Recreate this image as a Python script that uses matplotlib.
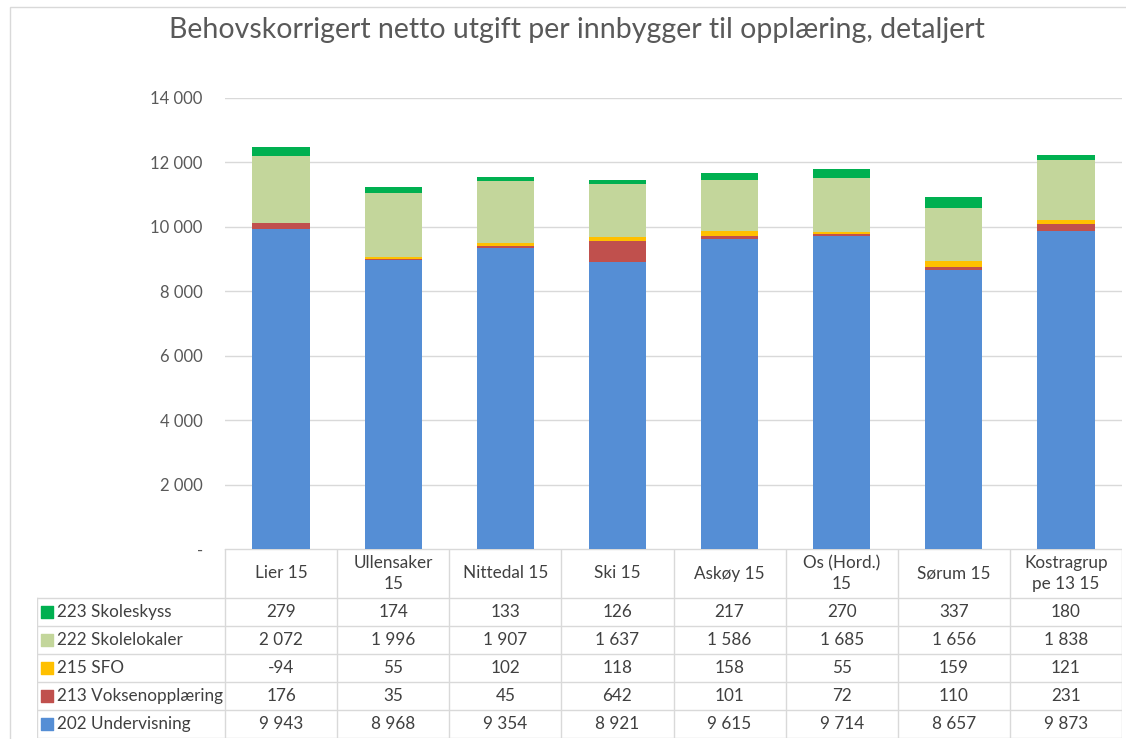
import matplotlib.pyplot as plt
import numpy as np
from matplotlib.patches import Rectangle

plt.rcParams["font.family"] = ["Lato", "DejaVu Sans"]

categories = ["Lier 15", "Ullensaker\n15", "Nittedal 15", "Ski 15", "Askøy 15",
              "Os (Hord.)\n15", "Sørum 15", "Kostragrup\npe 13 15"]
# bottom to top in the stack
series = ["202 Undervisning", "213 Voksenopplæring", "215 SFO",
          "222 Skolelokaler", "223 Skoleskyss"]
undervisning = [9943, 8968, 9354, 8921, 9615, 9714, 8657, 9873]
voksen = [176, 35, 45, 642, 101, 72, 110, 231]
sfo = [-94, 55, 102, 118, 158, 55, 159, 121]
skolelokaler = [2072, 1996, 1907, 1637, 1586, 1685, 1656, 1838]
skoleskyss = [279, 174, 133, 126, 217, 270, 337, 180]
values = [undervisning, voksen, sfo, skolelokaler, skoleskyss]
colors = ["#558ED5", "#C0504D", "#FFC000", "#C3D69B", "#00B050"]

W, H = 1126, 739


def px(x0, y0, x1, y1):
    return [x0 / W, 1 - y1 / H, (x1 - x0) / W, (y1 - y0) / H]


def fmt(v):
    return f"{v:,}".replace(",", " ")


fig = plt.figure(figsize=(W / 100, H / 100), dpi=100)

# chart frame
fig.patches.append(Rectangle((10 / W, -0.1), 1.2, 1 - 7 / H + 0.1, transform=fig.transFigure,
                             fill=False, edgecolor="#D9D9D9", linewidth=1))

fig.text(577 / W, 1 - 30 / H, "Behovskorrigert netto utgift per innbygger til opplæring, detaljert",
         ha="center", va="center", fontsize=20.5, color="#595959")

ax = fig.add_axes(px(225, 98, 1122, 549))
x = np.arange(len(categories))
width = 0.51
pos_bottom = np.zeros(len(categories))
neg_bottom = np.zeros(len(categories))
for vals, col in zip(values, colors):
    v = np.array(vals, dtype=float)
    bottom = np.where(v >= 0, pos_bottom, neg_bottom)
    ax.bar(x, v, width, bottom=bottom, color=col, zorder=3)
    pos_bottom += np.where(v >= 0, v, 0)
    neg_bottom += np.where(v < 0, v, 0)

ax.set_xlim(-0.5, len(categories) - 0.5)
ax.set_ylim(0, 14000)
ax.set_yticks(np.arange(0, 14001, 2000))
ax.set_yticklabels(["-"] + [fmt(t) for t in range(2000, 14001, 2000)])
ax.tick_params(axis="y", length=0, pad=16, labelsize=12, labelcolor="#595959")
ax.set_xticks([])
ax.grid(axis="y", color="#D9D9D9", linewidth=1, zorder=0)
for s in ax.spines.values():
    s.set_visible(False)

# data table under the chart
col_w = (1122 - 225) / len(categories)
x_left = -0.5 - (225 - 37) / col_w
tax = fig.add_axes(px(37, 549, 1122, 738))
tax.set_xlim(x_left, len(categories) - 0.5)
tax.set_ylim(189, 0)
tax.axis("off")
line_kw = dict(color="#D9D9D9", linewidth=1)
rows = [0, 49, 77, 105, 133, 161, 189]
tax.plot([-0.5, len(categories) - 0.5], [0, 0], **line_kw)
for r in rows[1:]:
    tax.plot([x_left, len(categories) - 0.5], [r, r], **line_kw)
tax.plot([x_left, x_left], [rows[1], rows[-1]], **line_kw)
for k in range(len(categories) + 1):
    tax.plot([k - 0.5, k - 0.5], [0, rows[-1]], **line_kw)

for i, name in enumerate(categories):
    tax.text(i, rows[1] / 2, name, ha="center", va="center", fontsize=12.3,
             color="#404040", linespacing=1.4)

table_order = list(range(len(series)))[::-1]
for r, si in enumerate(table_order):
    yc = (rows[r + 1] + rows[r + 2]) / 2
    tax.scatter([x_left + 10 / col_w], [yc], marker="s", s=70, color=colors[si])
    tax.text(x_left + 20 / col_w, yc, series[si], ha="left", va="center",
             fontsize=12.3, color="#404040")
    for i, v in enumerate(values[si]):
        tax.text(i, yc, fmt(v), ha="center", va="center", fontsize=12.3, color="#404040")

fig.savefig("out.png", dpi=100)
